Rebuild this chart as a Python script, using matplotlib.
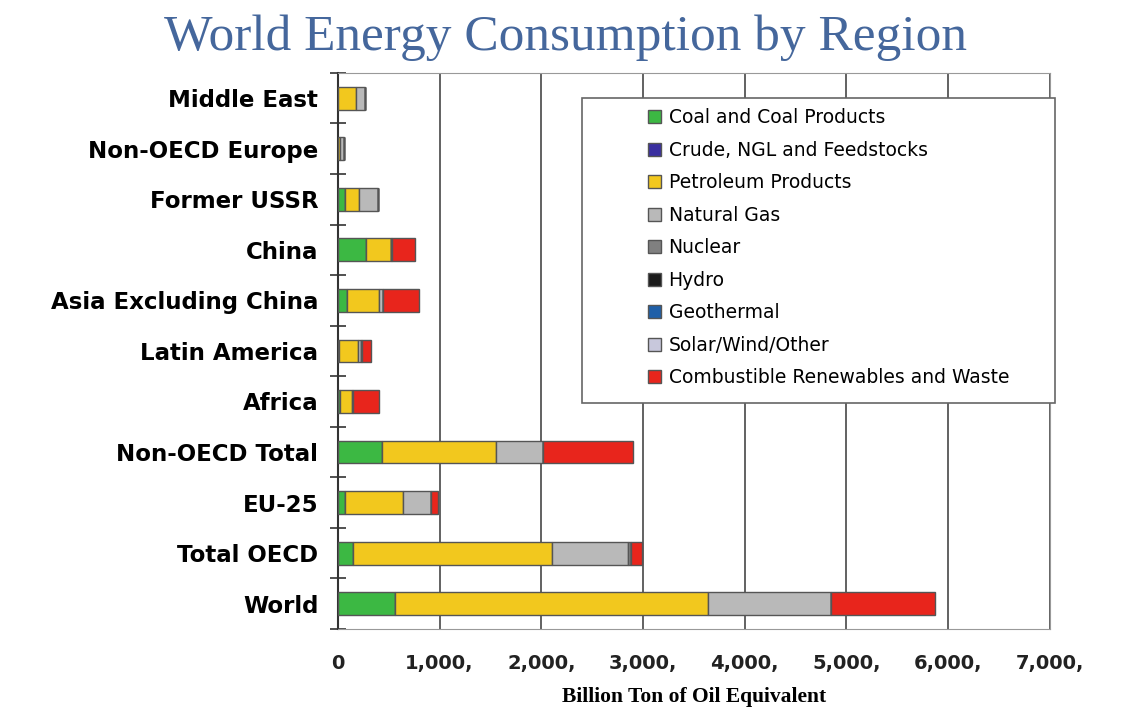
import numpy as np
import matplotlib.pyplot as plt
from matplotlib.patches import Rectangle

regions = ["World", "Total OECD", "EU-25", "Non-OECD Total", "Africa", "Latin America",
           "Asia Excluding China", "China", "Former USSR", "Non-OECD Europe", "Middle East"]

sources = ["Coal and Coal Products", "Crude, NGL and Feedstocks", "Petroleum Products",
           "Natural Gas", "Nuclear", "Hydro", "Geothermal", "Solar/Wind/Other",
           "Combustible Renewables and Waste"]

coal        = [560, 147, 69, 432, 20, 10, 88, 275, 70, 5, 5]
crude       = [0, 0, 0, 0, 0, 0, 0, 0, 0, 0, 0]
petroleum   = [3075, 1955, 570, 1120, 118, 186, 315, 246, 137, 15, 172]
natural_gas = [1208, 747, 275, 462, 15, 35, 39, 0, 187, 40, 88]
nuclear     = [0, 30, 0, 0, 0, 0, 0, 0, 0, 0, 0]
hydro       = [0, 0, 0, 0, 0, 5, 0, 10, 0, 0, 0]
geothermal  = [0, 0, 0, 0, 0, 0, 0, 0, 0, 0, 0]
solar       = [0, 0, 0, 0, 0, 0, 0, 0, 0, 0, 0]
combustible = [1031, 107, 68, 884, 255, 88, 354, 225, 0, 0, 0]

series = [coal, crude, petroleum, natural_gas, nuclear, hydro, geothermal, solar, combustible]
colours = ["#3cb843", "#3a2fa0", "#f2c81e", "#b9b9b9", "#808080", "#1a1a1a",
           "#1f5fa8", "#c8c8dc", "#e8251c"]

xticks = [0, 1000, 2000, 3000, 4000, 5000, 6000, 7000]
xticklabels = ["0", "1,000,", "2,000,", "3,000,", "4,000,", "5,000,", "6,000,", "7,000,"]

fig = plt.figure(figsize=(11.45, 7.12), dpi=100)
ax = fig.add_axes([0.295, 0.1166, 0.622, 0.781])

y = np.arange(len(regions))
left = np.zeros(len(regions))
handles = []
for vals, col, name in zip(series, colours, sources):
    vals = np.array(vals, dtype=float)
    b = ax.barh(y, vals, left=left, height=0.45, color=col, edgecolor="#555555",
                linewidth=1.0, label=name, zorder=3)
    handles.append(b)
    left += vals

ax.set_xlim(0, 7000)
ax.set_ylim(-0.5, 10.5)
ax.set_xticks(xticks)
ax.set_xticklabels(xticklabels, fontsize=14, fontweight="bold", color="#222222")
ax.set_yticks(y)
ax.set_yticklabels(regions, fontsize=16.5, fontweight="bold", color="black")
ax.set_yticks(np.arange(-0.5, 10.6, 1), minor=True)
ax.tick_params(axis="y", which="major", length=0, pad=14)
ax.tick_params(axis="y", which="minor", length=12, direction="inout", color="#333333", width=1.2)
ax.tick_params(axis="x", length=0, pad=18)
ax.xaxis.grid(True, color="#555555", linewidth=1.3, zorder=0)
for s in ["top", "right", "bottom"]:
    ax.spines[s].set_color("#999999")
ax.spines["left"].set_color("#333333")
ax.spines["left"].set_linewidth(1.5)

ax.set_xlabel("Billion Ton of Oil Equivalent", fontsize=15.5, fontweight="bold",
              family="Liberation Serif", labelpad=10)

fig.suptitle("World Energy Consumption by Region", x=0.494, y=0.98, fontsize=37,
             family="Liberation Serif", color="#45679c")

# legend box drawn by hand, entries inset on the left like the original
ax.add_patch(Rectangle((0.343, 0.406), 0.664, 0.549, transform=ax.transAxes,
                       facecolor="white", edgecolor="#666666", linewidth=1.2,
                       zorder=5, clip_on=False))
leg = ax.legend(handles=handles, loc="upper left", bbox_to_anchor=(0.425, 0.95),
                frameon=False, fontsize=13.5, labelspacing=0.72, handlelength=0.7,
                handleheight=0.7, handletextpad=0.4, borderaxespad=0)
leg.set_zorder(6)

fig.savefig("out.png", dpi=100)
